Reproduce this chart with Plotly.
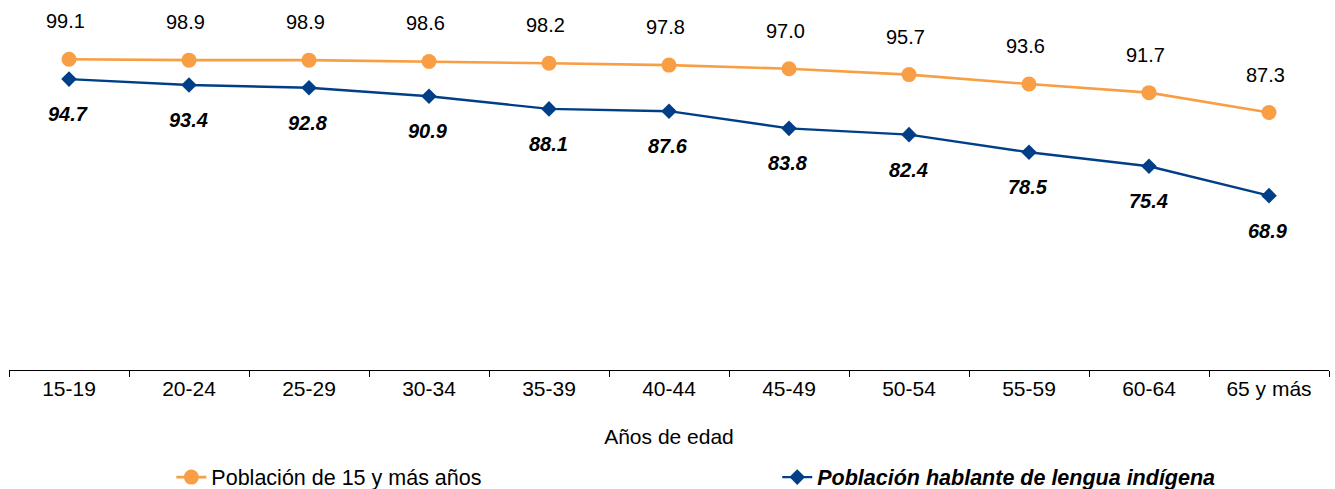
import plotly.graph_objects as go

categories = ["15-19", "20-24", "25-29", "30-34", "35-39", "40-44",
              "45-49", "50-54", "55-59", "60-64", "65 y más"]
poblacion_total = [99.1, 98.9, 98.9, 98.6, 98.2, 97.8, 97.0, 95.7, 93.6, 91.7, 87.3]
poblacion_indigena = [94.7, 93.4, 92.8, 90.9, 88.1, 87.6, 83.8, 82.4, 78.5, 75.4, 68.9]

name_total = "Población de 15 y más años"
name_indigena = "<b><i>Población hablante de lengua indígena</i></b>"
x_title = "Años de edad"

ORANGE = "#F89E45"
BLUE = "#003F88"
FONT = "Liberation Sans, Arial, sans-serif"

W, H = 1335, 489
M_L, M_R, M_T, M_B = 9, 6, 20, 119
plot_h = H - M_T - M_B
px_per_unit = 4.517
y_min = 30.3
y_max = y_min + plot_h / px_per_unit

fig = go.Figure()
fig.add_trace(go.Scatter(
    x=categories, y=poblacion_total, mode="lines+markers", name=name_total,
    line=dict(color=ORANGE, width=2.6),
    marker=dict(symbol="circle", size=15, color=ORANGE),
    legend="legend",
))
fig.add_trace(go.Scatter(
    x=categories, y=poblacion_indigena, mode="lines+markers", name=name_indigena,
    line=dict(color=BLUE, width=2.4),
    marker=dict(symbol="diamond", size=12, color=BLUE),
    legend="legend2",
))

for c, v in zip(categories, poblacion_total):
    fig.add_annotation(x=c, y=v, text=f"{v:.1f}", showarrow=False,
                       yshift=38, xshift=-4,
                       font=dict(family=FONT, size=20, color="#000000"))
for c, v in zip(categories, poblacion_indigena):
    fig.add_annotation(x=c, y=v, text=f"<b><i>{v:.1f}</i></b>", showarrow=False,
                       yshift=-35, xshift=-1,
                       font=dict(family=FONT, size=20, color="#000000"))

legend_common = dict(orientation="h", xanchor="left", yanchor="middle", y=-0.306,
                     font=dict(family=FONT, size=21.5, color="#000000"),
                     bgcolor="rgba(0,0,0,0)", borderwidth=0)

fig.update_layout(
    width=W, height=H,
    margin=dict(l=M_L, r=M_R, t=M_T, b=M_B, autoexpand=False),
    paper_bgcolor="white", plot_bgcolor="white",
    font=dict(family=FONT, size=21, color="#000000"),
    showlegend=True,
    legend=dict(x=0.123, **legend_common),
    legend2=dict(x=0.582, **legend_common),
    xaxis=dict(
        type="category", showgrid=False, zeroline=False, automargin=False,
        showline=True, linecolor="#000000", linewidth=1,
        ticks="outside", tickson="boundaries", ticklen=6, tickcolor="#000000",
        tickfont=dict(family=FONT, size=21, color="#000000"),
        title=dict(text=x_title, font=dict(family=FONT, size=21, color="#000000"), standoff=30),
        range=[-0.5, len(categories) - 0.5],
    ),
    yaxis=dict(range=[y_min, y_max], visible=False, showgrid=False, zeroline=False,
               automargin=False),
)

fig.write_html("out.html", config={"displayModeBar": False},
               post_script="document.body.style.margin='0';document.body.style.padding='0';")
